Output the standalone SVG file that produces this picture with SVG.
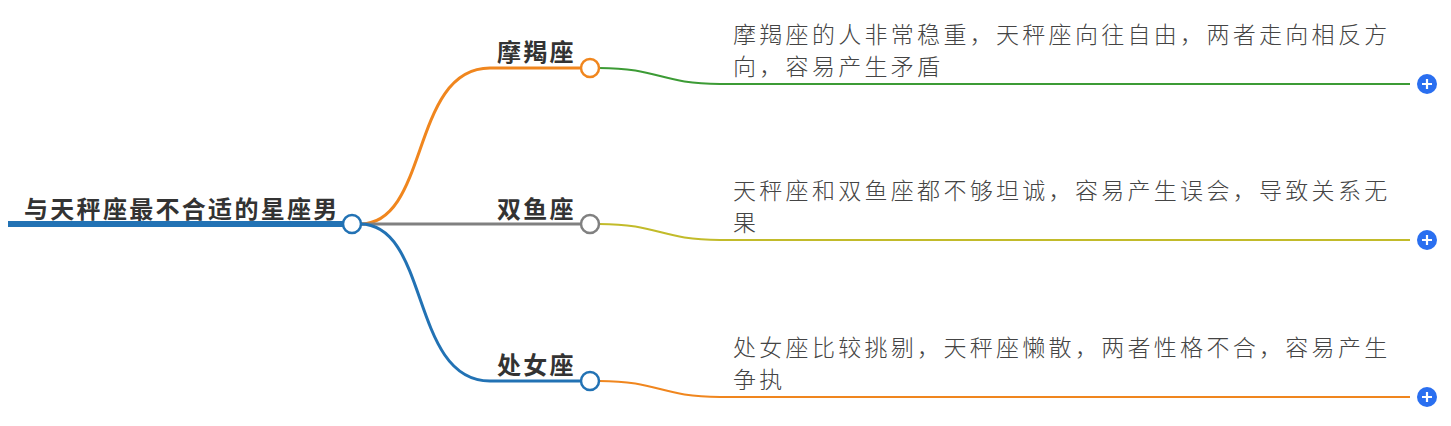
<svg xmlns="http://www.w3.org/2000/svg" width="1451" height="426" viewBox="0 0 1451 426">
<style>
.t{font-family:"Noto Sans CJK SC",sans-serif;font-size:23px;letter-spacing:3.3px;fill:#444;font-weight:300}
.b{font-family:"Noto Sans CJK SC",sans-serif;font-size:24px;letter-spacing:2.3px;fill:#333;font-weight:bold}
.n{fill:#fff;stroke-width:2.5}
.p{fill:#2a6ff0}
.pl{stroke:#fff;stroke-width:2.2}
</style>
<rect width="1451" height="426" fill="#fff"/>
<g id="connectors" fill="none">
<path d="M360 224 C430 224 410 68 490 68 L580 68" stroke="#f0861e" stroke-width="3"/>
<path d="M360 224 L580 224" stroke="#808080" stroke-width="3"/>
<path d="M360 224 C430 224 410 381 490 381 L580 381" stroke="#2272b4" stroke-width="3"/>
<path d="M599 68 C660 68 660 84 720 84 L1410 84" stroke="#3c9b35" stroke-width="2"/>
<path d="M599 224 C660 224 660 240 720 240 L1410 240" stroke="#c2bb2a" stroke-width="2"/>
<path d="M599 381 C660 381 660 397 720 397 L1410 397" stroke="#f0861e" stroke-width="2"/>
</g>
<g id="root">
<rect x="8" y="221" width="336" height="6" fill="#2272b4"/>
<text class="b" x="24" y="218">与天秤座最不合适的星座男</text>
<circle class="n" cx="352" cy="224" r="9" stroke="#2272b4"/>
</g>
<g id="n1">
<text class="b" x="497" y="61">摩羯座</text>
<circle class="n" cx="590" cy="68" r="9" stroke="#f0861e"/>
<text class="t" x="733" y="43">摩羯座的人非常稳重，天秤座向往自由，两者走向相反方</text>
<text class="t" x="733" y="75">向，容易产生矛盾</text>
<circle class="p" cx="1427" cy="84" r="10"/><path class="pl" d="M1422 84h10M1427 79v10"/>
</g>
<g id="n2">
<text class="b" x="497" y="218">双鱼座</text>
<circle class="n" cx="590" cy="224" r="9" stroke="#808080"/>
<text class="t" x="733" y="199">天秤座和双鱼座都不够坦诚，容易产生误会，导致关系无</text>
<text class="t" x="733" y="231">果</text>
<circle class="p" cx="1427" cy="240" r="10"/><path class="pl" d="M1422 240h10M1427 235v10"/>
</g>
<g id="n3">
<text class="b" x="497" y="374">处女座</text>
<circle class="n" cx="590" cy="381" r="9" stroke="#2272b4"/>
<text class="t" x="733" y="356">处女座比较挑剔，天秤座懒散，两者性格不合，容易产生</text>
<text class="t" x="733" y="388">争执</text>
<circle class="p" cx="1427" cy="397" r="10"/><path class="pl" d="M1422 397h10M1427 392v10"/>
</g>
</svg>
